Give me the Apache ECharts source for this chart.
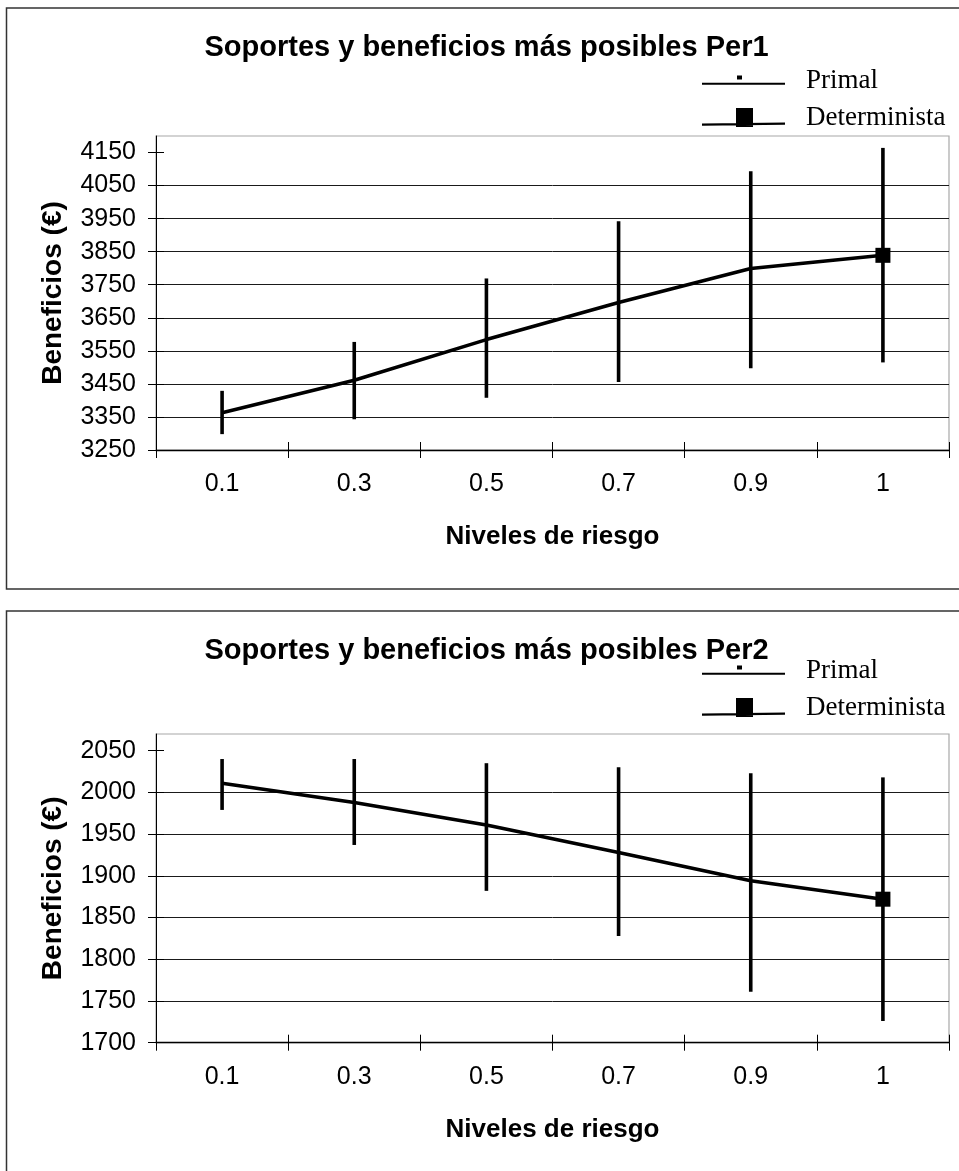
<!DOCTYPE html>
<html>
<head>
<meta charset="utf-8">
<script src="https://cdn.jsdelivr.net/npm/echarts@6/dist/echarts.min.js"></script>
<style>
  html, body { margin: 0; padding: 0; background: #ffffff; }
  #chart { width: 959px; height: 1171px; }
</style>
</head>
<body>
<div id="chart"></div>
<script>
// Risk levels on the horizontal axis
const levels = ['0.1', '0.3', '0.5', '0.7', '0.9', '1'];

// Period 1: most possible profit and its support (low / high)
const per1Primal = [3363, 3461, 3584, 3696, 3799, 3839];
const per1Low = [3298, 3343, 3408, 3456, 3497, 3515];
const per1High = [3429, 3577, 3769, 3942, 4093, 4164];
const per1Determinista = [null, null, null, null, null, 3839];
const per1Ticks = [3250, 3350, 3450, 3550, 3650, 3750, 3850, 3950, 4050, 4150];

// Period 2: most possible profit and its support (low / high)
const per2Primal = [2011, 1988, 1961, 1928, 1894, 1872];
const per2Low = [1979, 1937, 1882, 1828, 1761, 1726];
const per2High = [2040, 2040, 2035, 2030, 2023, 2018];
const per2Determinista = [null, null, null, null, null, 1872];
const per2Ticks = [1700, 1750, 1800, 1850, 1900, 1950, 2000, 2050];

const SANS = 'Liberation Sans, Arial, sans-serif';
const SERIF = 'Liberation Serif, Times New Roman, serif';

// Legend icons (83 x 20 boxes; tiny corner slivers pin the bounding box)
const CORNERS = 'M0,0 L0.01,0 L0,0.01 Z M83,20 L82.99,20 L83,19.99 Z ';
const ICON_PRIMAL = 'path://' + CORNERS +
  'M0,11.8 L83,11.8 L83,13.8 L0,13.8 Z M35,4.5 L40,4.5 L40,8.5 L35,8.5 Z';
const ICON_DET = 'path://' + CORNERS +
  'M0,15.5 L83,14.5 L83,16.7 L0,17.7 Z M34,0 L51,0 L51,19 L34,19 Z';

function rangeData(low, high) {
  return levels.map((_, i) => [i, low[i], high[i]]);
}

// Vertical support bar from low to high
function renderRange(params, api) {
  const hi = api.coord([api.value(0), api.value(2)]);
  const lo = api.coord([api.value(0), api.value(1)]);
  return {
    type: 'line',
    shape: { x1: hi[0], y1: hi[1], x2: lo[0], y2: lo[1] },
    style: { stroke: '#000', lineWidth: 3.6 }
  };
}

const panels = [
  { top: 136, height: 314, min: 3250, max: 4200, step: 100, ticks: per1Ticks,
    primal: per1Primal, low: per1Low, high: per1High, det: per1Determinista,
    title: 'Soportes y beneficios más posibles Per1', titleTop: 33, legendTop: 67.5 },
  { top: 734, height: 308.7, min: 1700, max: 2070, step: 50, ticks: per2Ticks,
    primal: per2Primal, low: per2Low, high: per2High, det: per2Determinista,
    title: 'Soportes y beneficios más posibles Per2', titleTop: 636, legendTop: 657.5 }
];

const option = {
  animation: false,
  backgroundColor: '#ffffff',
  title: [],
  legend: [],
  grid: [],
  xAxis: [],
  yAxis: [],
  series: [],
  graphic: [
    { type: 'rect', silent: true, shape: { x: 6.5, y: 8, width: 980, height: 581 },
      style: { fill: 'none', stroke: '#333', lineWidth: 1.5 } },
    { type: 'rect', silent: true, shape: { x: 6.5, y: 611, width: 980, height: 620 },
      style: { fill: 'none', stroke: '#333', lineWidth: 1.5 } }
  ]
};

panels.forEach((p, g) => {
  option.title.push({
    text: p.title, left: 486.5, top: p.titleTop, textAlign: 'center', padding: 0,
    textStyle: { fontFamily: SANS, fontSize: 29, fontWeight: 'bold', color: '#000' }
  });
  option.legend.push({
    orient: 'vertical', left: 702, top: p.legendTop, padding: 0,
    itemWidth: 83, itemHeight: 20, itemGap: 10, selectedMode: false,
    data: [
      { name: 'Primal', icon: ICON_PRIMAL },
      { name: 'Determinista', icon: ICON_DET }
    ],
    itemStyle: { color: '#000', borderWidth: 0 },
    lineStyle: { width: 0 },
    textStyle: { fontFamily: SERIF, fontSize: 27, color: '#000', lineHeight: 20, padding: [0, 0, 0, 16] }
  });
  option.grid.push({
    left: 156, right: 10, top: p.top, height: p.height,
    show: true, borderColor: '#a8a8a8', borderWidth: 1.2, backgroundColor: 'transparent'
  });
  // main category axis
  option.xAxis.push({
    gridIndex: g, type: 'category', data: levels, boundaryGap: true, position: 'bottom',
    axisLine: { show: true, lineStyle: { color: '#000', width: 1.3 } },
    axisTick: { show: true, length: 8, lineStyle: { color: '#000', width: 1 } },
    axisLabel: { margin: 22, fontSize: 25, color: '#000', fontFamily: SANS },
    splitLine: { show: false },
    name: 'Niveles de riesgo', nameLocation: 'middle', nameGap: 74,
    nameTextStyle: { fontFamily: SANS, fontSize: 26, fontWeight: 'bold', color: '#000' }
  });
  // inner half of the crossing ticks
  option.xAxis.push({
    gridIndex: g, type: 'category', data: levels, boundaryGap: true, position: 'bottom',
    axisLine: { show: false },
    axisTick: { show: true, inside: true, length: 8, lineStyle: { color: '#000', width: 1 } },
    axisLabel: { show: false }, splitLine: { show: false }
  });
  option.yAxis.push({
    gridIndex: g, type: 'value', min: p.min, max: p.max, interval: p.step, position: 'left',
    axisLine: { show: true, lineStyle: { color: '#000', width: 1 } },
    axisTick: { show: true, length: 8, customValues: p.ticks, lineStyle: { color: '#000', width: 1 } },
    axisLabel: { customValues: p.ticks, margin: 20, fontSize: 25, color: '#000', fontFamily: SANS,
                 formatter: (v) => String(v) },
    splitLine: { show: true, showMaxLine: false, lineStyle: { color: '#1a1a1a', width: 1 } },
    name: 'Beneficios (€)', nameLocation: 'middle', nameGap: 89, nameRotate: 90,
    nameTextStyle: { fontFamily: SANS, fontSize: 28, fontWeight: 'bold', color: '#000' }
  });
  option.yAxis.push({
    gridIndex: g, type: 'value', min: p.min, max: p.max, interval: p.step, position: 'left',
    axisLine: { show: false },
    axisTick: { show: true, inside: true, length: 8, customValues: p.ticks, lineStyle: { color: '#000', width: 1 } },
    axisLabel: { show: false }, splitLine: { show: false }
  });

  const xi = g * 2, yi = g * 2;
  option.series.push({
    type: 'custom', xAxisIndex: xi, yAxisIndex: yi,
    renderItem: renderRange, data: rangeData(p.low, p.high),
    encode: { x: 0, y: [1, 2] }, z: 2, silent: true
  });
  option.series.push({
    type: 'line', name: 'Primal', xAxisIndex: xi, yAxisIndex: yi,
    data: p.primal, symbol: 'none', showSymbol: false,
    lineStyle: { color: '#000', width: 3.6 }, itemStyle: { color: '#000' }, z: 3, silent: true
  });
  option.series.push({
    type: 'line', name: 'Determinista', xAxisIndex: xi, yAxisIndex: yi,
    data: p.det, symbol: 'rect', symbolSize: 15,
    lineStyle: { color: '#000', width: 3.6 }, itemStyle: { color: '#000' }, z: 4, silent: true
  });
});

const chart = echarts.init(document.getElementById('chart'), null, { renderer: 'canvas' });
chart.setOption(option);
</script>
</body>
</html>
